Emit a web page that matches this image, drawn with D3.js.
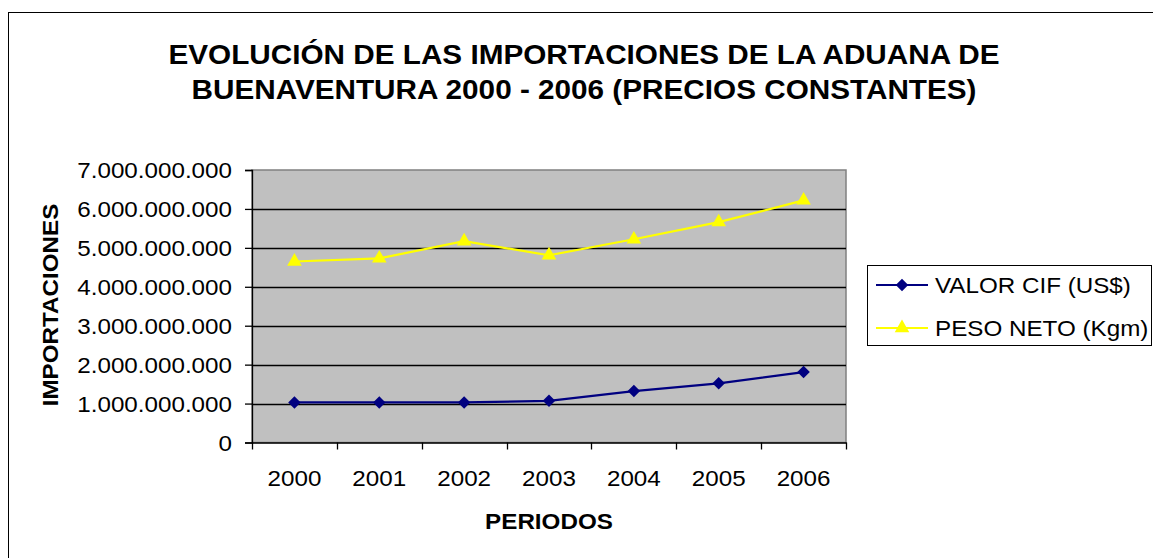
<!DOCTYPE html>
<html>
<head>
<meta charset="utf-8">
<script src="https://cdn.jsdelivr.net/npm/d3@7"></script>
<style>
  body { margin: 0; background: #fff; }
  svg text { font-family: "Liberation Sans", Arial, sans-serif; fill: #000; }
</style>
</head>
<body>
<svg id="chart" width="1153" height="558"></svg>
<script>
// Data
var years = ['2000', '2001', '2002', '2003', '2004', '2005', '2006'];
var valorCif = [1030000000, 1030000000, 1030000000, 1070000000, 1320000000, 1520000000, 1810000000];
var pesoNeto = [4650000000, 4730000000, 5170000000, 4810000000, 5220000000, 5660000000, 6220000000];
var yTicks = [0, 1000000000, 2000000000, 3000000000, 4000000000, 5000000000, 6000000000, 7000000000];
var titleLines = ['EVOLUCIÓN DE LAS IMPORTACIONES DE LA ADUANA DE',
                  'BUENAVENTURA 2000 - 2006 (PRECIOS CONSTANTES)'];
var seriesNames = ['VALOR CIF (US$)', 'PESO NETO (Kgm)'];

var APP = {};

APP.plot = {left: 252, right: 846, top: 170, bottom: 442.5};
APP.stretch = 1.1;   // the original text is drawn a bit wider than Arial

APP.main = function(){
  var svg = d3.select('#chart');
  APP.svg = svg;

  // outer chart frame
  svg.append('rect')
      .attr('x', 8.5).attr('y', 12.5)
      .attr('width', 1160).attr('height', 560)
      .attr('fill', '#fff').attr('stroke', '#000').attr('stroke-width', 1);

  APP.x = d3.scaleBand().domain(years).range([APP.plot.left, APP.plot.right]);
  APP.y = d3.scaleLinear().domain([0, 7000000000]).range([APP.plot.bottom, APP.plot.top]);

  APP.drawTitle();
  APP.drawPlotArea();
  APP.drawAxes();
  APP.drawSeries();
  APP.drawLegend();

  // widen every text a little to match the reference
  svg.selectAll('text').each(function(){
    var el = d3.select(this);
    var k = el.classed('title') ? 1.08 : APP.stretch;
    el.attr('textLength', this.getComputedTextLength() * k)
      .attr('lengthAdjust', 'spacingAndGlyphs');
  });
};

APP.drawTitle = function(){
  APP.svg.selectAll('text.title')
      .data(titleLines)
      .enter()
      .append('text')
      .attr('class', 'title')
      .attr('x', 584)
      .attr('y', function(d, i){ return 63.5 + i * 35.5; })
      .attr('text-anchor', 'middle')
      .style('font-size', '27.5px')
      .style('font-weight', 'bold')
      .text(function(d){ return d; });
};

APP.drawPlotArea = function(){
  var p = APP.plot;
  APP.svg.append('rect')
      .attr('x', p.left).attr('y', p.top)
      .attr('width', p.right - p.left).attr('height', p.bottom - p.top)
      .attr('fill', '#c0c0c0')
      .attr('stroke', '#808080').attr('stroke-width', 1.5);

  // horizontal gridlines
  APP.svg.append('g')
      .selectAll('line')
      .data(yTicks.slice(1, -1))
      .enter()
      .append('line')
      .attr('x1', p.left).attr('x2', p.right)
      .attr('y1', function(d){ return Math.round(APP.y(d)) + 0.5; })
      .attr('y2', function(d){ return Math.round(APP.y(d)) + 0.5; })
      .attr('stroke', '#000').attr('stroke-width', 1.3);
};

APP.drawAxes = function(){
  var p = APP.plot;
  var fmt = function(d){ return d3.format(',')(d).replace(/,/g, '.'); };

  var yAxis = APP.svg.append('g')
      .attr('transform', 'translate(' + p.left + ',0)')
      .call(d3.axisLeft(APP.y).tickValues(yTicks).tickFormat(fmt).tickSize(7).tickPadding(13));
  yAxis.select('.domain').attr('stroke', '#000').attr('stroke-width', 1.3);
  yAxis.selectAll('.tick line').attr('stroke', '#000').attr('stroke-width', 1.3);
  yAxis.selectAll('.tick text')
      .style('font-size', '22px')
      .attr('dy', '0.36em')
      .attr('font-family', null);

  var xAxis = APP.svg.append('g')
      .attr('transform', 'translate(0,' + p.bottom + ')')
      .call(d3.axisBottom(APP.x).tickSize(0).tickSizeOuter(0));
  xAxis.select('.domain').attr('stroke', '#000').attr('stroke-width', 1.3);
  xAxis.selectAll('.tick text')
      .style('font-size', '22px')
      .attr('y', 43)
      .attr('dy', 0)
      .attr('font-family', null);

  // tick marks between categories
  var bounds = years.map(function(d){ return APP.x(d); }).concat([p.right]);
  xAxis.selectAll('line.sep')
      .data(bounds)
      .enter()
      .append('line')
      .attr('class', 'sep')
      .attr('x1', function(d){ return Math.round(d) + 0.5; })
      .attr('x2', function(d){ return Math.round(d) + 0.5; })
      .attr('y1', 0).attr('y2', 7)
      .attr('stroke', '#000').attr('stroke-width', 1.3);

  // axis titles
  APP.svg.append('text')
      .attr('x', (p.left + p.right) / 2)
      .attr('y', 529)
      .attr('text-anchor', 'middle')
      .style('font-size', '22px')
      .style('font-weight', 'bold')
      .text('PERIODOS');

  APP.svg.append('text')
      .attr('transform', 'translate(58,' + 305 + ') rotate(-90)')
      .attr('text-anchor', 'middle')
      .style('font-size', '22px')
      .style('font-weight', 'bold')
      .text('IMPORTACIONES');
};

APP.drawSeries = function(){
  var cx = function(d, i){ return APP.x(years[i]) + APP.x.bandwidth() / 2; };
  var line = d3.line()
      .x(cx)
      .y(function(d){ return APP.y(d); });

  var series = [
    {values: valorCif, color: '#000080', symbol: d3.symbolSquare, size: 78, rotate: 45},
    {values: pesoNeto, color: '#ffff00', symbol: d3.symbolTriangle, size: 92, rotate: 0}
  ];

  series.forEach(function(s){
    APP.svg.append('path')
        .datum(s.values)
        .attr('d', line)
        .attr('fill', 'none')
        .attr('stroke', s.color)
        .attr('stroke-width', 2.2);

    APP.svg.append('g')
        .selectAll('path')
        .data(s.values)
        .enter()
        .append('path')
        .attr('d', d3.symbol().type(s.symbol).size(s.size))
        .attr('transform', function(d, i){
          return 'translate(' + cx(d, i) + ',' + APP.y(d) + ') rotate(' + s.rotate + ')';
        })
        .attr('fill', s.color);
  });
  APP.series = series;
};

APP.drawLegend = function(){
  var g = APP.svg.append('g');
  g.append('rect')
      .attr('x', 867.5).attr('y', 265.5)
      .attr('width', 284).attr('height', 80)
      .attr('fill', '#fff').attr('stroke', '#000').attr('stroke-width', 1);

  var items = g.selectAll('g.item')
      .data(APP.series)
      .enter()
      .append('g')
      .attr('class', 'item')
      .attr('transform', function(d, i){ return 'translate(0,' + (285 + i * 43) + ')'; });

  items.append('line')
      .attr('x1', 876).attr('x2', 928)
      .attr('y1', 0).attr('y2', 0)
      .attr('stroke', function(d){ return d.color; })
      .attr('stroke-width', 2.2);

  items.append('path')
      .attr('d', function(d){ return d3.symbol().type(d.symbol).size(d.size)(); })
      .attr('transform', function(d){ return 'translate(902,0) rotate(' + d.rotate + ')'; })
      .attr('fill', function(d){ return d.color; });

  items.append('text')
      .attr('x', 935)
      .attr('y', 8)
      .style('font-size', '22px')
      .text(function(d, i){ return seriesNames[i]; });
};

APP.main();
</script>
</body>
</html>
